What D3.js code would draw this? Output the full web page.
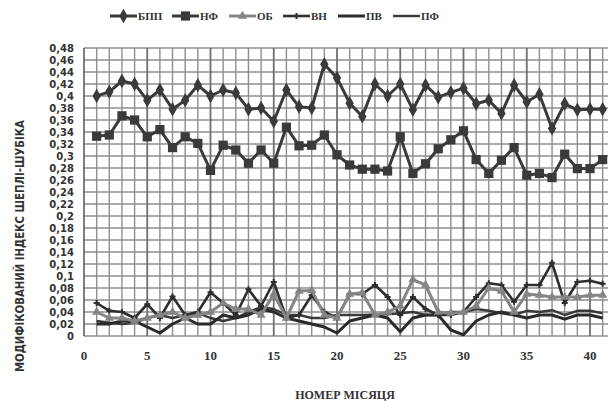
<!DOCTYPE html>
<html>
<head>
<meta charset="utf-8">
<script src="https://cdn.jsdelivr.net/npm/d3@7"></script>
<style>
  body { margin: 0; background: #fff; }
  svg { display: block; }
  .tick-y { font-family: "DejaVu Sans", sans-serif; font-weight: bold; font-size: 10px; fill: #333; }
  .tick-x { font-family: "Liberation Serif", serif; font-weight: bold; font-size: 13px; fill: #333; }
  .axis-title { font-family: "Liberation Serif", serif; font-weight: bold; font-size: 12px; fill: #333; }
  .legend-text { font-family: "Liberation Serif", serif; font-weight: bold; font-size: 11px; fill: #333; }
</style>
</head>
<body>
<div id="chart"></div>
<script>
// months 1..41
const months = d3.range(1, 42);

const bpp = [0.40, 0.407, 0.425, 0.42, 0.393, 0.41, 0.378, 0.393, 0.418, 0.40,
  0.41, 0.405, 0.378, 0.38, 0.358, 0.41, 0.382, 0.38, 0.453, 0.43,
  0.388, 0.366, 0.42, 0.40, 0.42, 0.377, 0.418, 0.398, 0.406, 0.413,
  0.387, 0.393, 0.371, 0.418, 0.39, 0.403, 0.346, 0.387, 0.377, 0.378, 0.378];

const nf = [0.333, 0.335, 0.367, 0.36, 0.332, 0.344, 0.314, 0.332, 0.321, 0.276,
  0.318, 0.31, 0.288, 0.31, 0.288, 0.348, 0.317, 0.318, 0.335, 0.302,
  0.285, 0.278, 0.278, 0.275, 0.332, 0.271, 0.287, 0.312, 0.327, 0.342,
  0.294, 0.271, 0.293, 0.314, 0.268, 0.271, 0.264, 0.303, 0.279, 0.279, 0.294];

const ob = [0.04, 0.03, 0.03, 0.025, 0.03, 0.035, 0.04, 0.03, 0.035, 0.04,
  0.055, 0.045, 0.045, 0.035, 0.07, 0.03, 0.075, 0.076, 0.035, 0.03,
  0.07, 0.072, 0.035, 0.04, 0.05, 0.094, 0.085, 0.04, 0.038, 0.04,
  0.05, 0.08, 0.075, 0.04, 0.07, 0.068, 0.065, 0.065, 0.065, 0.068, 0.068];

const vn = [0.055, 0.042, 0.04, 0.03, 0.053, 0.03, 0.066, 0.035, 0.04, 0.073,
  0.055, 0.035, 0.078, 0.05, 0.09, 0.03, 0.035, 0.068, 0.04, 0.03,
  0.07, 0.07, 0.085, 0.065, 0.035, 0.065, 0.045, 0.035, 0.035, 0.04,
  0.065, 0.088, 0.085, 0.057, 0.085, 0.085, 0.122, 0.055, 0.09, 0.092, 0.087];

const pv = [0.02, 0.02, 0.025, 0.025, 0.015, 0.005, 0.02, 0.03, 0.02, 0.02,
  0.035, 0.03, 0.035, 0.045, 0.04, 0.03, 0.025, 0.02, 0.015, 0.005,
  0.025, 0.03, 0.035, 0.03, 0.007, 0.03, 0.035, 0.035, 0.01, 0.002,
  0.025, 0.035, 0.04, 0.035, 0.03, 0.035, 0.035, 0.028, 0.035, 0.035, 0.03];

const pf = [0.025, 0.022, 0.02, 0.022, 0.03, 0.035, 0.03, 0.035, 0.038, 0.03,
  0.025, 0.03, 0.04, 0.048, 0.045, 0.035, 0.035, 0.03, 0.03, 0.035,
  0.035, 0.035, 0.036, 0.036, 0.038, 0.04, 0.035, 0.035, 0.04, 0.04,
  0.045, 0.042, 0.038, 0.035, 0.042, 0.04, 0.043, 0.035, 0.042, 0.042, 0.038];

const seriesNames = ['БПП', 'НФ', 'ОБ', 'ВН', 'ПВ', 'ПФ'];

const yTicks = [0, 0.02, 0.04, 0.06, 0.08, 0.1, 0.12, 0.14, 0.16, 0.18, 0.2, 0.22,
  0.24, 0.26, 0.28, 0.3, 0.32, 0.34, 0.36, 0.38, 0.4, 0.42, 0.44, 0.46, 0.48];
const xTicks = [0, 5, 10, 15, 20, 25, 30, 35, 40];

const series = [
  {name: 'БПП', values: bpp, color: '#3a3a3a', width: 3, marker: d3.symbolDiamond, msize: 60},
  {name: 'НФ', values: nf, color: '#3a3a3a', width: 3, marker: d3.symbolSquare, msize: 85},
  {name: 'ОБ', values: ob, color: '#858585', width: 3, marker: d3.symbolTriangle, msize: 36},
  {name: 'ВН', values: vn, color: '#2e2e2e', width: 2.6, marker: d3.symbolCross, msize: 20},
  {name: 'ПВ', values: pv, color: '#2a2a2a', width: 3, marker: null},
  {name: 'ПФ', values: pf, color: '#3a3a3a', width: 2.4, marker: null}
];

const W = 608, H = 401;
const svg = d3.select('#chart').append('svg').attr('width', W).attr('height', H);

const x = d3.scaleLinear().domain([0, 42]).range([84, 84 + 42 * 12.65]);
const y = d3.scaleLinear().domain([0, 0.48]).range([336, 48]);

// grid
const grid = svg.append('g');
grid.selectAll('.hg').data(yTicks).enter().append('line')
  .attr('x1', x(0)).attr('x2', x(42))
  .attr('y1', d => y(d)).attr('y2', d => y(d))
  .attr('stroke', '#8e8e8e').attr('stroke-width', 1.4);
grid.selectAll('.vg').data(d3.range(0, 43)).enter().append('line')
  .attr('x1', d => x(d)).attr('x2', d => x(d))
  .attr('y1', y(0)).attr('y2', y(0.48))
  .attr('stroke', d => d % 5 === 0 ? '#707070' : '#8e8e8e')
  .attr('stroke-width', d => d % 5 === 0 ? 1.8 : 1.4);

// y tick labels
const fmt = d => d3.format('.2~f')(d).replace('.', ',');
svg.append('g').selectAll('text').data(yTicks).enter().append('text')
  .attr('class', 'tick-y')
  .attr('x', 74).attr('y', d => y(d) + 4)
  .attr('text-anchor', 'end')
  .text(fmt);

// x tick labels
svg.append('g').selectAll('text').data(xTicks).enter().append('text')
  .attr('class', 'tick-x')
  .attr('x', d => x(d)).attr('y', 360)
  .attr('text-anchor', 'middle')
  .text(d => d);

// axis titles
svg.append('text').attr('class', 'axis-title')
  .attr('x', 345).attr('y', 399).attr('text-anchor', 'middle')
  .text('НОМЕР МІСЯЦЯ');
svg.append('text').attr('class', 'axis-title')
  .style('font-family', '"Liberation Sans Narrow", "DejaVu Sans Condensed", sans-serif')
  .style('font-size', '12px')
  .attr('transform', 'translate(24,246) rotate(-90)')
  .attr('text-anchor', 'middle')
  .attr('textLength', 252).attr('lengthAdjust', 'spacingAndGlyphs')
  .text('МОДИФІКОВАНИЙ ІНДЕКС ШЕПЛІ-ШУБІКА');

// lines
const line = d3.line().x((d, i) => x(months[i])).y(d => y(d));
const plot = svg.append('g');
series.slice().reverse().forEach(s => {
  plot.append('path')
    .attr('d', line(s.values))
    .attr('fill', 'none')
    .attr('stroke', s.color)
    .attr('stroke-width', s.width)
    .attr('stroke-linejoin', 'round');
  if (s.marker) {
    plot.selectAll(null).data(s.values).enter().append('path')
      .attr('d', d3.symbol().type(s.marker).size(s.msize))
      .attr('transform', (d, i) => `translate(${x(months[i])},${y(d)})`)
      .attr('fill', s.color);
  }
});

// legend
const legendX = [110, 172, 229, 283, 338, 393];
const lg = svg.append('g');
series.forEach((s, i) => {
  const g = lg.append('g').attr('transform', `translate(${legendX[i]},16)`);
  g.append('line').attr('x1', 0).attr('x2', 27).attr('y1', 0).attr('y2', 0)
    .attr('stroke', s.color).attr('stroke-width', s.width);
  if (s.marker) {
    g.append('path').attr('d', d3.symbol().type(s.marker).size(s.msize))
      .attr('transform', 'translate(13.5,0)').attr('fill', s.color);
  }
  g.append('text').attr('class', 'legend-text').attr('x', 28).attr('y', 4)
    .text(seriesNames[i]);
});
</script>
</body>
</html>
